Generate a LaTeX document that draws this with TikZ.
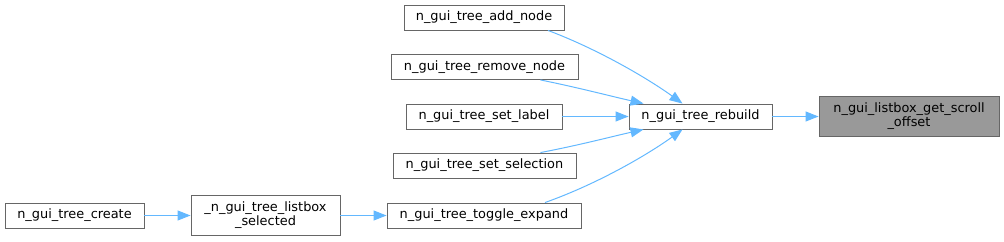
\documentclass[tikz,border=0pt]{standalone}
\usepackage{fontspec}
\setmainfont{DejaVu Sans}
\usetikzlibrary{arrows.meta}
\definecolor{edgeblue}{HTML}{63B8FF}
\definecolor{boxline}{HTML}{666666}
\definecolor{selfill}{HTML}{999999}
\tikzset{
  fn/.style={draw=boxline, line width=0.9pt, fill=white, inner sep=0pt, font=\fontsize{12.9}{14}\selectfont, align=center},
  sel/.style={fn, fill=selfill},
  call/.style={draw=edgeblue, line width=1pt, -{Triangle[length=13pt,width=10pt]}}
}
\begin{document}
\begin{tikzpicture}[x=1pt,y=-1pt]
\useasboundingbox (0,0) rectangle (1004,241);
\node[fn, minimum width=139pt, minimum height=25pt] (create) at (74.5,215.5) {n\_gui\_tree\_create};
\node[fn, minimum width=149pt, minimum height=40pt] (lbsel) at (265.5,215) {\_n\_gui\_tree\_listbox\\\_selected};
\node[fn, minimum width=194pt, minimum height=25pt] (toggle) at (484,215.5) {n\_gui\_tree\_toggle\_expand};
\node[fn, minimum width=160pt, minimum height=25pt] (add) at (484,17.5) {n\_gui\_tree\_add\_node};
\node[fn, minimum width=187pt, minimum height=25pt] (remove) at (484.5,67) {n\_gui\_tree\_remove\_node};
\node[fn, minimum width=156pt, minimum height=25pt] (label) at (484,116.5) {n\_gui\_tree\_set\_label};
\node[fn, minimum width=183pt, minimum height=25pt] (selection) at (484.5,165.5) {n\_gui\_tree\_set\_selection};
\node[fn, minimum width=143pt, minimum height=25pt] (rebuild) at (700.5,116.5) {n\_gui\_tree\_rebuild};
\node[sel, minimum width=180pt, minimum height=40pt] (offset) at (909,116) {n\_gui\_listbox\_get\_scroll\\\_offset};

\draw[call] (create.east) -- (lbsel.west |- create.east);
\draw[call] (lbsel.east |- toggle.west) -- (toggle.west);
\draw[call] (rebuild.east) -- (offset.west |- rebuild.east);
\draw[call] (label.east) -- (rebuild.west);
\draw[call] ([xshift=64pt]add.south) .. controls (600,50) and (650,80) .. ([xshift=-18pt]rebuild.north);
\draw[call] ([xshift=56pt]remove.south) .. controls (580,88) and (610,96) .. ([xshift=-57pt]rebuild.north);
\draw[call] ([xshift=56pt]selection.north) .. controls (580,145) and (610,137) .. ([xshift=-57pt]rebuild.south);
\draw[call] ([xshift=61pt]toggle.north) .. controls (600,183) and (650,153) .. ([xshift=-18pt]rebuild.south);
\end{tikzpicture}
\end{document}
